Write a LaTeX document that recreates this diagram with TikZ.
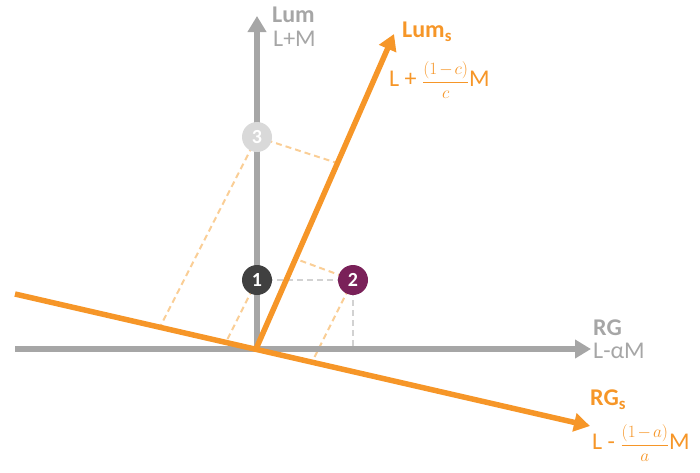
\documentclass[tikz,border=0pt]{standalone}
\usepackage{fontspec}
\setmainfont{Carlito}
\usetikzlibrary{arrows.meta}
\definecolor{axgray}{RGB}{166,166,166}
\definecolor{orng}{RGB}{246,150,40}
\definecolor{lorng}{RGB}{250,206,150}
\definecolor{dgray}{RGB}{210,210,210}
\definecolor{pdark}{RGB}{64,64,64}
\definecolor{purp}{RGB}{122,33,89}
\definecolor{plight}{RGB}{217,217,217}
\tikzset{
  axis/.style={draw=axgray,line width=5.5pt,-{Triangle[length=16pt,width=18pt]}},
  oaxis/.style={draw=orng,line width=5.5pt,-{Triangle[length=16pt,width=18pt]}},
  gdash/.style={draw=dgray,line width=2pt,dash pattern=on 6pt off 4pt},
  odash/.style={draw=lorng,line width=2pt,dash pattern=on 6pt off 4pt},
  pt/.style={circle,minimum size=30pt,inner sep=0pt,text=white,font=\fontsize{20}{20}\selectfont\bfseries},
  glabel/.style={anchor=west,text=axgray,inner sep=0pt,font=\fontsize{24}{27}\selectfont},
  olabel/.style={anchor=west,text=orng,inner sep=0pt,font=\fontsize{24}{27}\selectfont},
  bl/.style={font=\fontsize{24}{27}\selectfont\bfseries},
}
\newcommand{\myfrac}[2]{{\fontsize{18}{18}\selectfont$\displaystyle\frac{#1}{#2}$}}
\newcommand{\smin}{\mathord{-}}
\begin{document}
\begin{tikzpicture}[x=1pt,y=-1pt]
\useasboundingbox (0,0) rectangle (700,472);
% named coordinates
\coordinate (O) at (256,349);
\coordinate (lumtip) at (257,16);
\coordinate (lumbase) at (257,349);
\coordinate (rgstart) at (15,349);
\coordinate (rgtip) at (591,349);
\coordinate (lumstip) at (394,34);
\coordinate (rgsstart) at (15,294);
\coordinate (rgstip) at (590,426);
\coordinate (p1) at (257,280);
\coordinate (p2) at (353,280);
\coordinate (p3) at (257,137);
\coordinate (q3a) at (337,163);
\coordinate (q3b) at (160,327);
\coordinate (q1b) at (226,342);
\coordinate (q2a) at (296,259);
\coordinate (q2b) at (312,362);
\coordinate (q2c) at (353,349);
% dashed projections
\draw[gdash] (p1) -- (p2);
\draw[gdash] (p2) -- (q2c);
\draw[odash] (p3) -- (q3a);
\draw[odash] (p3) -- (q3b);
\draw[odash] (p1) -- (q1b);
\draw[odash] (p2) -- (q2a);
\draw[odash] (p2) -- (q2b);
% axes
\draw[axis] (lumbase) -- (lumtip);
\draw[axis] (rgstart) -- (rgtip);
\draw[oaxis] (rgsstart) -- (rgstip);
\draw[oaxis] (O) -- (lumstip);
% points
\node[pt,fill=pdark] (n1) at (p1) {1};
\node[pt,fill=purp] (n2) at (p2) {2};
\node[pt,fill=plight] (n3) at (p3) {3};
% labels
\node[glabel,bl] (lumlab) at (272,15) {Lum};
\node[glabel] (lmlab) at (273,39) {L+M};
\node[olabel,bl] (lumslab) at (402,32) {Lum\textsubscript{s}};
\node[olabel] (lumsf) at (389,80) {L + \myfrac{(1\mkern2mu\smin\mkern2mu c)}{c}M};
\node[glabel,bl] (rglab) at (593,328) {RG};
\node[glabel] (rgf) at (593,351) {L-αM};
\node[olabel,bl] (rgslab) at (590,400) {RG\textsubscript{s}};
\node[olabel] (rgsf) at (592,443) {L - \myfrac{(1\mkern2mu\smin\mkern2mu a)}{a}M};
\end{tikzpicture}
\end{document}
